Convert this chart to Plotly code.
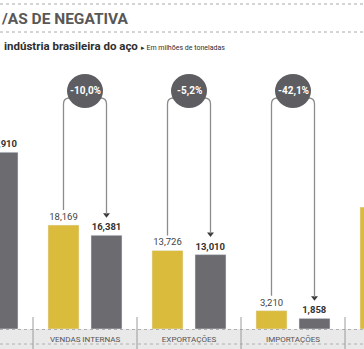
import plotly.graph_objects as go

# ---------------- data ----------------
categories = ["PRODUÇÃO AÇO BRUTO", "VENDAS INTERNAS", "EXPORTAÇÕES", "IMPORTAÇÕES", "CONSUMO APARENTE"]
values_prev = [32.600, 18.169, 13.726, 3.210, 21.310]   # yellow (earlier period)
values_curr = [30.910, 16.381, 13.010, 1.858, 19.800]   # grey (later period)
changes = [None, "-10,0%", "-5,2%", "-42,1%", None]

title_text = "/AS DE NEGATIVA"
subtitle_main = "indústria brasileira do aço"
subtitle_unit = "Em milhões de toneladas"

# ---------------- style ----------------
W, H = 364, 349
BOTTOM = 20
PLOT_H = H - BOTTOM            # plot area height in px
PX_PER_UNIT = 5.72
YMAX = PLOT_H / PX_PER_UNIT
SLOT_PX = 104.0
X0 = 1 - 85 / SLOT_PX
X1 = X0 + W / SLOT_PX

YELLOW = "#dbbb3c"
GREY = "#6c6c70"
BUBBLE = "#5e5e62"
LINE = "#8c8c8c"
TXT = "#444444"
NARROW = "Roboto, sans-serif"

bar_w = 31 / SLOT_PX
off_prev = -37 / SLOT_PX
off_curr = 6 / SLOT_PX
cx_prev = off_prev + bar_w / 2
cx_curr = off_curr + bar_w / 2


def fmt(v):
    return f"{v:.3f}".replace(".", ",")


def py(px):  # pixel row -> paper y
    return (PLOT_H - px) / PLOT_H


xs = list(range(len(categories)))

fig = go.Figure()
fig.add_trace(go.Bar(
    x=xs, y=values_prev, width=bar_w, offset=off_prev, marker_color=YELLOW,
    text=[fmt(v) for v in values_prev], textposition="outside",
    textfont=dict(family=NARROW, size=9.5, color=TXT), cliponaxis=False,
    hoverinfo="skip"))
fig.add_trace(go.Bar(
    x=xs, y=values_curr, width=bar_w, offset=off_curr, marker_color=GREY,
    text=["<b>" + fmt(v) + "</b>" for v in values_curr], textposition="outside",
    textfont=dict(family=NARROW, size=9.5, color="#333333"), cliponaxis=False,
    hoverinfo="skip"))

shapes = []
annotations = []

# bottom band
shapes.append(dict(type="rect", xref="paper", yref="paper", x0=0, x1=1,
                   y0=py(H), y1=py(PLOT_H), fillcolor="#e9e9e9", line_width=0, layer="below"))
for p in (PLOT_H + 0.5, H - 5):
    shapes.append(dict(type="line", xref="paper", yref="paper", x0=0, x1=1,
                       y0=py(p), y1=py(p), line=dict(color="#b0b0b0", width=1, dash="dot")))
# separators between categories
for i in range(len(categories) - 1):
    shapes.append(dict(type="line", xref="x", yref="paper", x0=i + 0.5, x1=i + 0.5,
                       y0=py(H), y1=py(PLOT_H - 12), line=dict(color="#9a9a9a", width=1)))

# header dotted lines
for p in (4, 32):
    shapes.append(dict(type="line", xref="paper", yref="paper", x0=0, x1=1,
                       y0=py(p), y1=py(p), line=dict(color="#aaaaaa", width=1, dash="dot")))

# brackets with bubbles
y_top = (PLOT_H - 98) / PX_PER_UNIT
y_bub = (PLOT_H - 91) / PX_PER_UNIT
rx = 6 / SLOT_PX
ry = 6 / PX_PER_UNIT
arrow_x, arrow_y = [], []
for i, ch in enumerate(changes):
    if ch is None:
        continue
    xl = i + cx_prev
    xr = i + cx_curr
    yl = values_prev[i] + 15 / PX_PER_UNIT
    yr = values_curr[i] + 18 / PX_PER_UNIT
    path = (f"M {xl},{yl} L {xl},{y_top - ry} Q {xl},{y_top} {xl + rx},{y_top} "
            f"L {xr - rx},{y_top} Q {xr},{y_top} {xr},{y_top - ry} L {xr},{yr + 3 / PX_PER_UNIT}")
    shapes.append(dict(type="path", xref="x", yref="y", path=path,
                       line=dict(color=LINE, width=1.3)))
    arrow_x.append(xr)
    arrow_y.append(yr + 2.5 / PX_PER_UNIT)
for i, ch in enumerate(changes):
    if ch is None:
        continue
    shapes.append(dict(type="circle", xref="x", yref="y", xsizemode="pixel", ysizemode="pixel",
                       xanchor=i, yanchor=y_bub, x0=-18, x1=18, y0=-17, y1=17,
                       fillcolor=BUBBLE, line_width=0))
    annotations.append(dict(x=i, y=y_bub, xref="x", yref="y", text=f"<b>{ch}</b>",
                            showarrow=False, font=dict(family="Roboto", size=10, color="white")))

fig.add_trace(go.Scatter(x=arrow_x, y=arrow_y, mode="markers",
                         marker=dict(symbol="triangle-down", size=6, color="#3a3a3a"),
                         hoverinfo="skip", cliponaxis=False))

# titles
annotations.append(dict(xref="paper", yref="paper", x=-1 / W, y=py(19), xanchor="left",
                        yanchor="middle", showarrow=False, text=f"<b>{title_text}</b>",
                        font=dict(family="Roboto", size=15.5, color="#585858")))
annotations.append(dict(xref="paper", yref="paper", x=2 / W, y=py(46), xanchor="left",
                        yanchor="middle", showarrow=False,
                        text=(f"<b>{subtitle_main}</b> <span style='font-size:7px'>▸ "
                              f"{subtitle_unit}</span>"),
                        font=dict(family="Roboto", size=11.5, color="#2e2e2e")))

fig.update_layout(
    width=W, height=H, margin=dict(l=0, r=0, t=0, b=BOTTOM),
    paper_bgcolor="white", plot_bgcolor="white", showlegend=False, barmode="overlay",
    xaxis=dict(range=[X0, X1], tickvals=xs, ticktext=categories, showgrid=False,
               zeroline=False, showline=False, ticks="outside", ticklen=2, tickcolor="rgba(0,0,0,0)",
               tickfont=dict(family=NARROW, size=8, color="#555555"), fixedrange=True),
    yaxis=dict(range=[0, YMAX], visible=False, fixedrange=True),
    shapes=shapes, annotations=annotations,
)

fig.write_html("out.html")
